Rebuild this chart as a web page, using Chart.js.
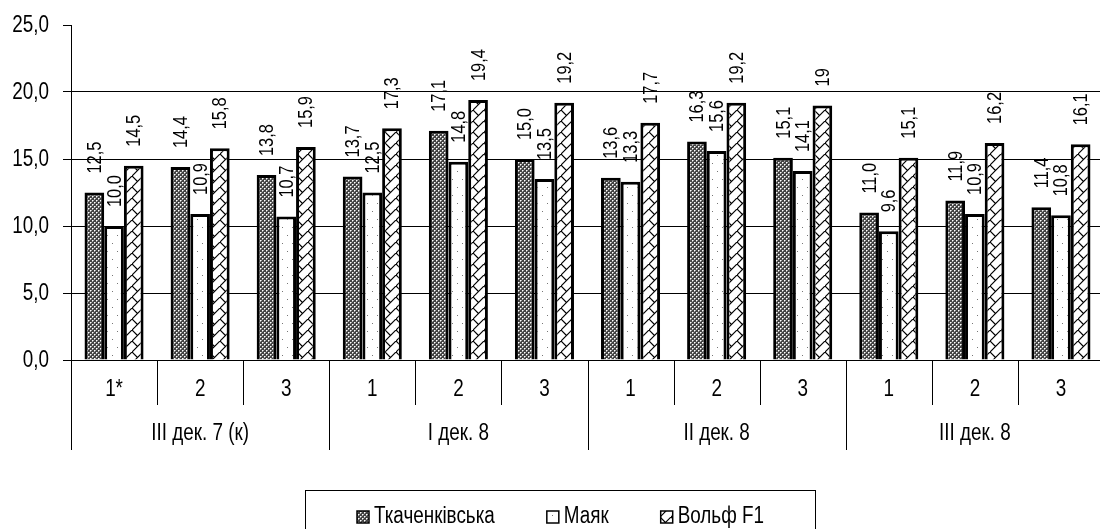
<!DOCTYPE html>
<html>
<head>
<meta charset="utf-8">
<script src="https://cdn.jsdelivr.net/npm/chart.js@4"></script>
<style>
  html, body { margin: 0; padding: 0; background: #fff; overflow: hidden; }
  #wrap { width: 1104px; height: 529px; }
</style>
</head>
<body>
<div id="wrap"><canvas id="chart" width="1104" height="529"></canvas></div>
<script>
// Data
const categories = ["1*", "2", "3", "1", "2", "3", "1", "2", "3", "1", "2", "3"];
const groups = ["III дек. 7 (к)", "I дек. 8", "II дек. 8", "III дек. 8"];
const seriesNames = ["Ткаченківська", "Маяк", "Вольф F1"];
const tkachenkivska = [12.5, 14.4, 13.8, 13.7, 17.1, 15.0, 13.6, 16.3, 15.1, 11.0, 11.9, 11.4];
const mayak = [10.0, 10.9, 10.7, 12.5, 14.8, 13.5, 13.3, 15.6, 14.1, 9.6, 10.9, 10.8];
const volf = [14.5, 15.8, 15.9, 17.3, 19.4, 19.2, 17.7, 19.2, 19, 15.1, 16.2, 16.1];
const yTicks = [0, 5, 10, 15, 20, 25];

const FONT = "'Liberation Sans', Arial, sans-serif";
const NARROW = 0.82; // the original uses a condensed face

// Fill patterns
function makePattern(w, h, draw) {
  const c = document.createElement("canvas");
  c.width = w; c.height = h;
  const g = c.getContext("2d");
  draw(g, w, h);
  return g.createPattern(c, "repeat");
}

const patDense = makePattern(4, 4, (g) => {
  g.fillStyle = "#444";
  g.fillRect(0, 0, 4, 4);
  g.fillStyle = "#fff";
  g.fillRect(0, 0, 1, 1);
  g.fillRect(2, 2, 1, 1);
  g.fillStyle = "#aaa";
  g.fillRect(1, 0, 1, 1);
  g.fillRect(0, 1, 1, 1);
  g.fillRect(3, 2, 1, 1);
  g.fillRect(2, 3, 1, 1);
});

const patDots = makePattern(10, 16, (g) => {
  g.fillStyle = "#fff";
  g.fillRect(0, 0, 10, 16);
  g.fillStyle = "#777";
  g.fillRect(2, 3, 1, 1);
  g.fillRect(7, 11, 1, 1);
});

const patCross = makePattern(11, 11, (g) => {
  g.fillStyle = "#fff";
  g.fillRect(0, 0, 11, 11);
  g.strokeStyle = "#000";
  g.lineWidth = 1.2;
  g.beginPath();
  g.moveTo(-1, 12); g.lineTo(12, -1);
  g.moveTo(0, 0); g.lineTo(5.5, 5.5);
  g.stroke();
});

const patterns = [patDense, patDots, patCross];

function fmt(v, ds) {
  if (ds === 2 && Number.isInteger(v)) return String(v);
  return v.toFixed(1).replace(".", ",");
}

// condensed text helper
function narrowText(ctx, text, x, y, rot) {
  ctx.save();
  ctx.translate(x, y);
  if (rot) ctx.rotate(rot);
  ctx.scale(NARROW, 1);
  ctx.fillText(text, 0, 0);
  ctx.restore();
}

// Draws y labels, rotated value labels, two-level x axis and the legend
const decorPlugin = {
  id: "decor",
  afterDatasetsDraw(chart) {
    const ctx = chart.ctx;
    ctx.save();
    ctx.fillStyle = "#000";
    ctx.font = "20px " + FONT;
    ctx.textAlign = "left";
    ctx.textBaseline = "middle";
    chart.data.datasets.forEach((ds, di) => {
      chart.getDatasetMeta(di).data.forEach((bar, i) => {
        narrowText(ctx, fmt(ds.data[i], di), bar.x + 1, bar.y - 19, -Math.PI / 2);
      });
    });
    ctx.restore();
  },
  afterDraw(chart) {
    const ctx = chart.ctx;
    const area = chart.chartArea;
    const xs = chart.scales.x;
    const ys = chart.scales.y;
    const n = categories.length;
    const bottom = area.bottom;

    const edge = (i) => {
      if (i === 0) return area.left;
      if (i === n) return area.right;
      return (xs.getPixelForValue(i - 1) + xs.getPixelForValue(i)) / 2;
    };

    ctx.save();
    ctx.strokeStyle = "#000";
    ctx.lineWidth = 1;
    ctx.beginPath();
    ctx.moveTo(area.left, Math.round(bottom) + 0.5);
    ctx.lineTo(area.right, Math.round(bottom) + 0.5);
    for (let i = 0; i <= n; i++) {
      const x = Math.round(edge(i)) + 0.5;
      ctx.moveTo(x, bottom);
      ctx.lineTo(x, i % 3 === 0 ? bottom + 90 : bottom + 45);
    }
    ctx.stroke();

    ctx.fillStyle = "#000";
    ctx.font = "23px " + FONT;
    ctx.textBaseline = "middle";

    // y tick labels
    ctx.textAlign = "right";
    yTicks.forEach(v => narrowText(ctx, v.toFixed(1).replace(".", ","), 49, ys.getPixelForValue(v) + 1));

    ctx.textAlign = "center";
    categories.forEach((c, i) => narrowText(ctx, c, xs.getPixelForValue(i), bottom + 30));
    groups.forEach((g, gi) => {
      const cx = (xs.getPixelForValue(gi * 3) + xs.getPixelForValue(gi * 3 + 2)) / 2;
      narrowText(ctx, g, cx, bottom + 74);
    });

    // legend
    ctx.strokeRect(305.5, 490.5, 510, 50);
    ctx.textAlign = "left";
    let lx = 357;
    const ly = 517;
    seriesNames.forEach((name, i) => {
      ctx.fillStyle = patterns[i];
      ctx.fillRect(lx, ly - 6, 12, 12);
      ctx.lineWidth = 1.5;
      ctx.strokeRect(lx, ly - 6, 12, 12);
      ctx.fillStyle = "#000";
      narrowText(ctx, name, lx + 17, ly);
      lx += 17 + ctx.measureText(name).width * NARROW + 52;
    });
    ctx.restore();
  }
};

new Chart(document.getElementById("chart"), {
  type: "bar",
  data: {
    labels: categories,
    datasets: [tkachenkivska, mayak, volf].map((d, i) => ({
      label: seriesNames[i],
      data: d,
      backgroundColor: patterns[i],
      borderColor: "#000",
      borderWidth: 3,
      barPercentage: 1,
      categoryPercentage: 0.686
    }))
  },
  options: {
    responsive: false,
    animation: false,
    devicePixelRatio: 1,
    layout: { padding: { top: 25, bottom: 169, left: 0, right: 0 } },
    plugins: { legend: { display: false }, tooltip: { enabled: false } },
    scales: {
      x: { display: false },
      y: {
        min: 0,
        max: 25,
        afterFit(scale) { scale.width = 71; },
        afterBuildTicks(scale) { scale.ticks = yTicks.map(v => ({ value: v })); },
        ticks: { display: false },
        grid: {
          color: (c) => (c.tick && c.tick.value === 25 ? "rgba(0,0,0,0)" : "#000"),
          tickColor: "#000",
          tickLength: 8,
          lineWidth: 1
        },
        border: { color: "#000", width: 1 }
      }
    }
  },
  plugins: [decorPlugin]
});
</script>
</body>
</html>
